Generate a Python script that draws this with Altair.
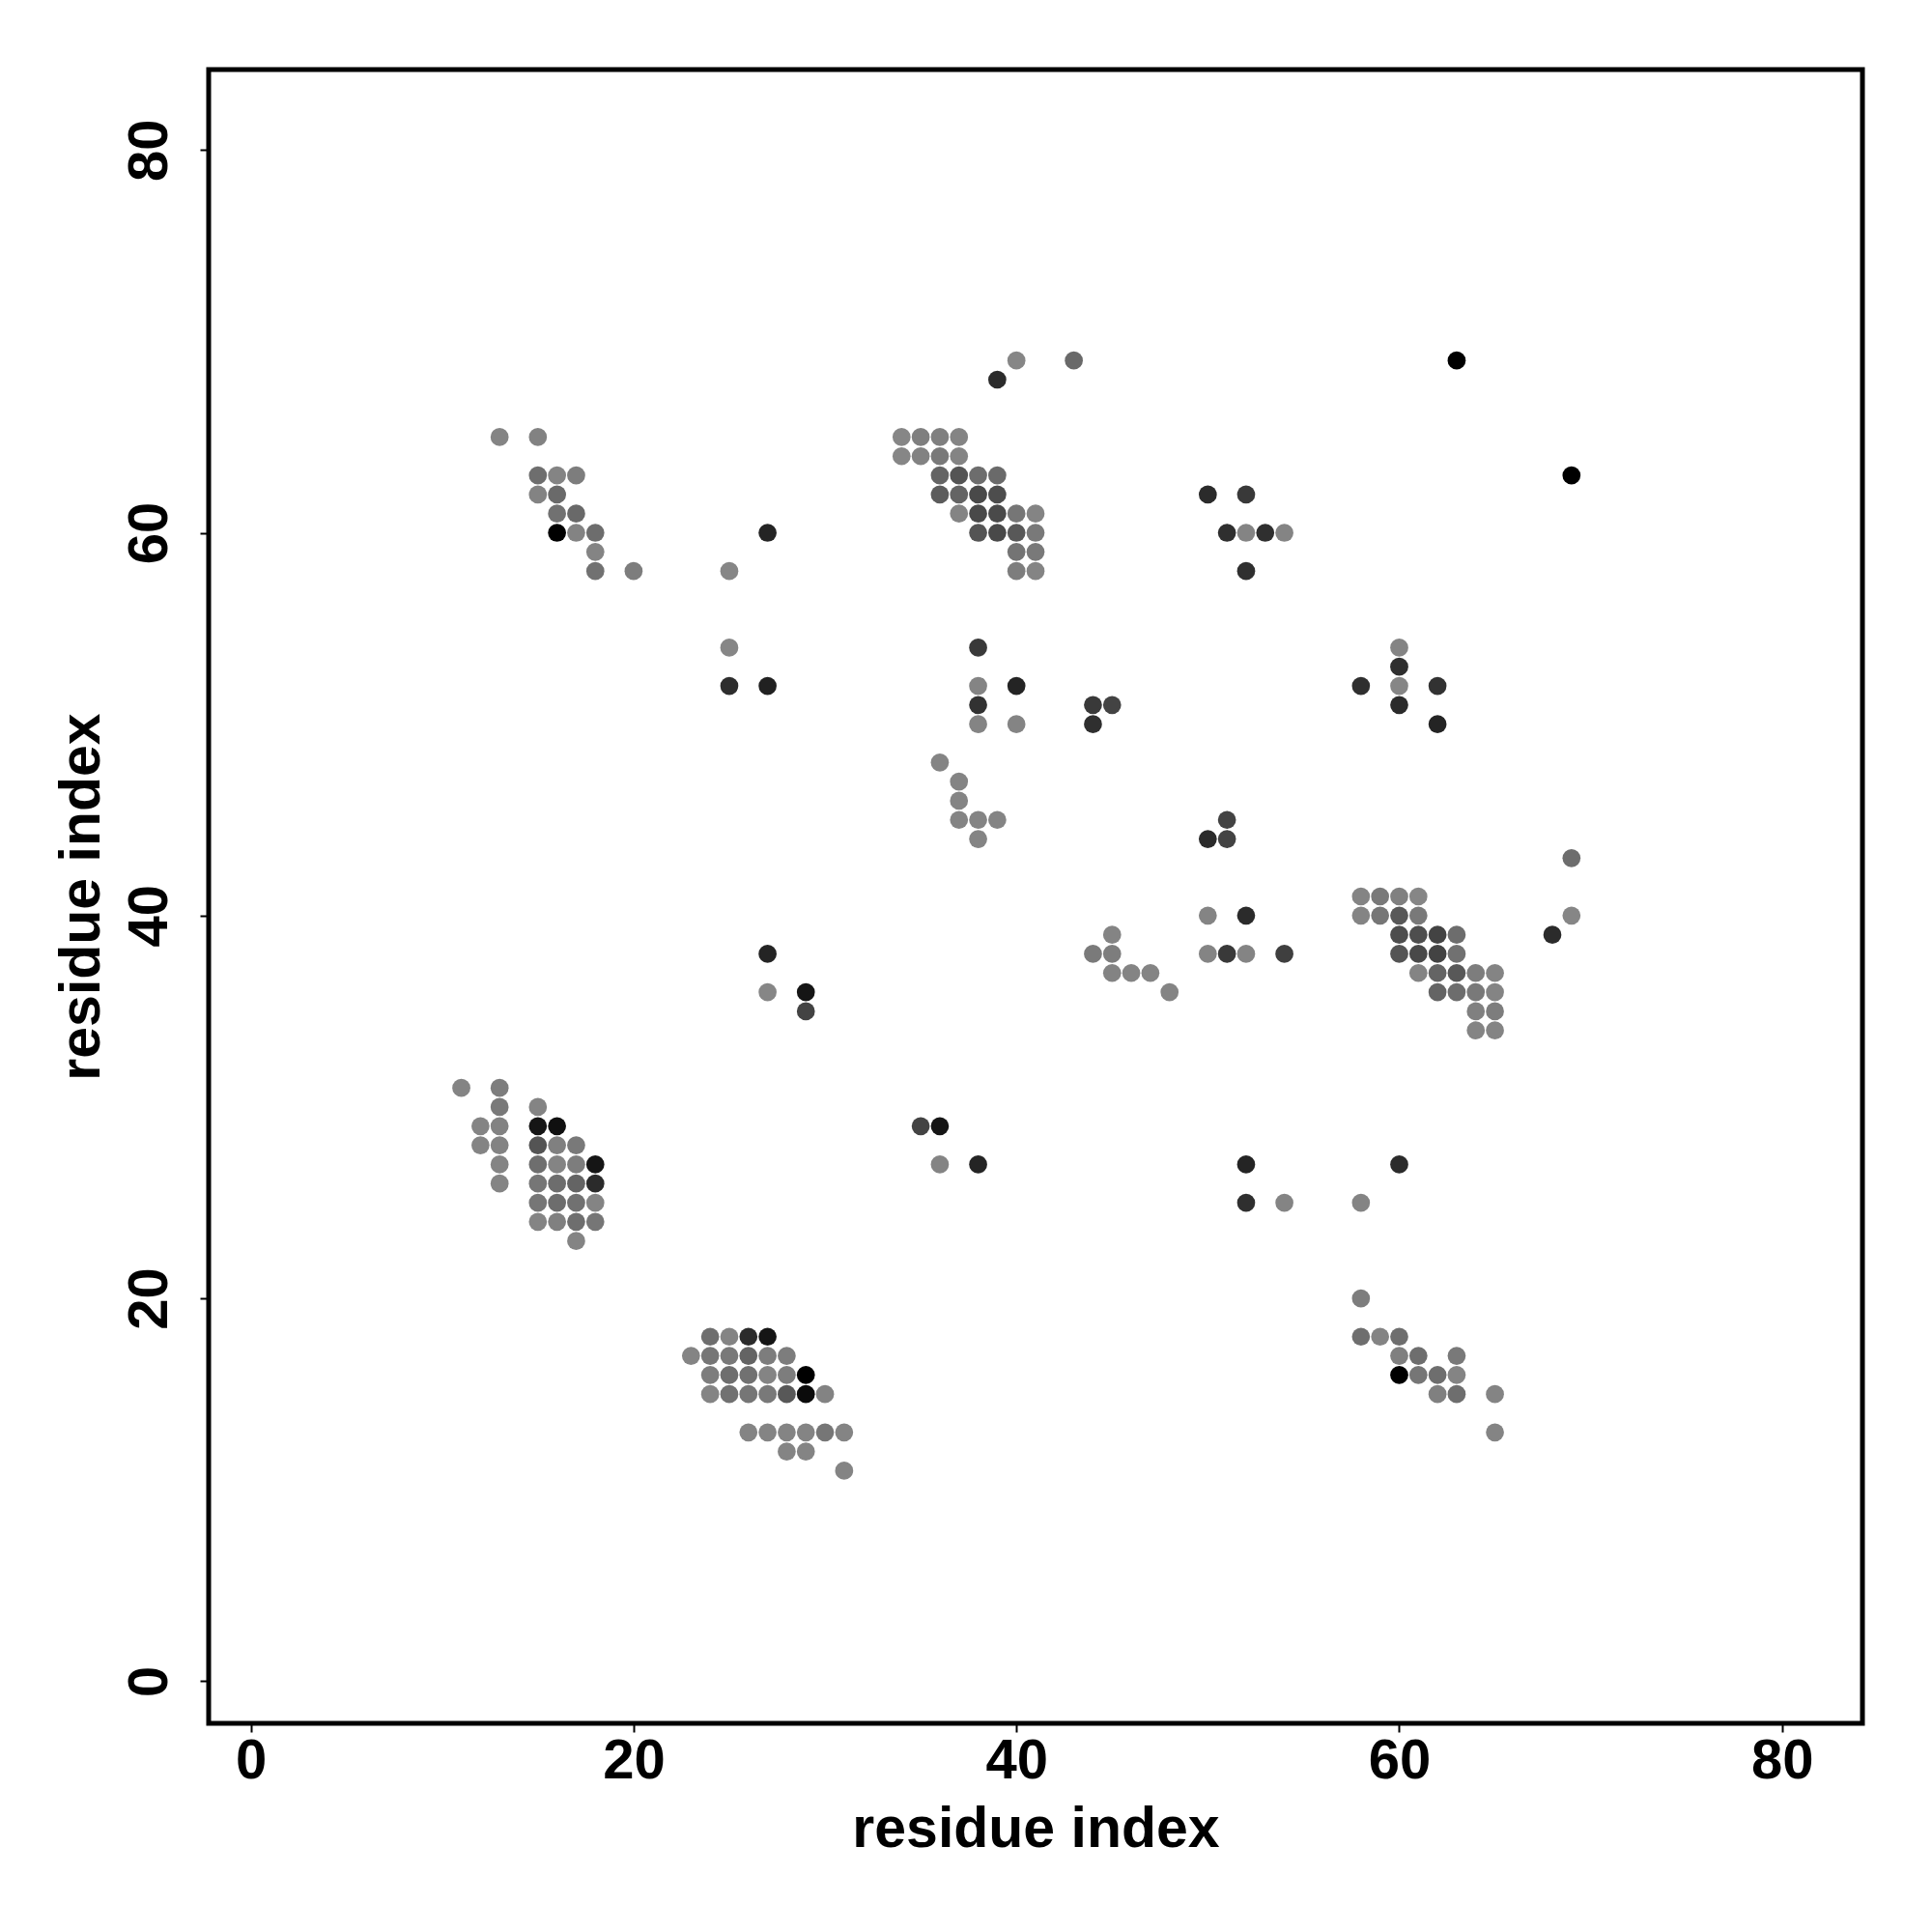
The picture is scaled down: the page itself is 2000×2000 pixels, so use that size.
import altair as alt
import pandas as pd

# residue pairs (i, j) and contact strength p (0 = light grey, 1 = black)
res_i = [
    # upper-left block
    13, 15, 15, 16, 17, 15, 16, 16, 17, 16, 17, 18, 18, 18, 20, 25, 27, 25, 25, 27,
    # upper-middle block
    40, 43, 39, 34, 35, 36, 37, 34, 35, 36, 37, 36, 37, 38, 39, 36, 37, 38, 39,
    37, 38, 39, 40, 41, 38, 39, 40, 41, 40, 41, 40, 41,
    # upper-right
    50, 52, 51, 52, 53, 54, 52, 63, 69,
    # middle
    38, 38, 40, 38, 44, 45, 38, 40, 44, 36, 37, 37, 37, 38, 39, 38, 50, 51, 51,
    50, 52, 50, 51, 52, 54, 44, 45, 45, 45, 46, 47, 48,
    60, 60, 58, 60, 62, 60, 62,
    # right-middle block
    69, 58, 59, 60, 61, 58, 59, 60, 61, 69, 60, 61, 62, 63, 68, 60, 61, 62, 63,
    61, 62, 63, 64, 65, 62, 63, 64, 65, 64, 65, 64, 65,
    # left-middle
    27, 27, 29, 29,
    # lower-left block
    11, 13, 13, 15, 12, 13, 15, 16, 12, 13, 15, 16, 17, 13, 15, 16, 17, 18,
    13, 15, 16, 17, 18, 15, 16, 17, 18, 15, 16, 17, 18, 17,
    # lower block
    24, 25, 26, 27, 23, 24, 25, 26, 27, 28, 24, 25, 26, 27, 28, 29,
    24, 25, 26, 27, 28, 29, 30, 26, 27, 28, 29, 30, 31, 28, 29, 31,
    # scattered
    35, 36, 36, 38, 52, 60, 52, 54, 58,
    # lower-right block
    58, 58, 59, 60, 60, 61, 63, 60, 61, 62, 63, 62, 63, 65, 65,
]

res_j = [
    65, 65, 63, 63, 63, 62, 62, 61, 61, 60, 60, 60, 59, 58, 58, 58, 60, 54, 52, 52,
    69, 69, 68, 65, 65, 65, 65, 64, 64, 64, 64, 63, 63, 63, 63, 62, 62, 62, 62,
    61, 61, 61, 61, 61, 60, 60, 60, 60, 59, 59, 58, 58,
    62, 62, 60, 60, 60, 60, 58, 69, 63,
    54, 52, 52, 51, 51, 51, 50, 50, 50, 48, 47, 46, 45, 45, 45, 44, 44, 44, 45,
    40, 40, 38, 38, 38, 38, 38, 38, 39, 37, 37, 37, 36,
    54, 53, 52, 52, 52, 51, 50,
    43, 41, 41, 41, 41, 40, 40, 40, 40, 40, 39, 39, 39, 39, 39, 38, 38, 38, 38,
    37, 37, 37, 37, 37, 36, 36, 36, 36, 35, 35, 34, 34,
    38, 36, 36, 35,
    31, 31, 30, 30, 29, 29, 29, 29, 28, 28, 28, 28, 28, 27, 27, 27, 27, 27,
    26, 26, 26, 26, 26, 25, 25, 25, 25, 24, 24, 24, 24, 23,
    18, 18, 18, 18, 17, 17, 17, 17, 17, 17, 16, 16, 16, 16, 16, 16,
    15, 15, 15, 15, 15, 15, 15, 13, 13, 13, 13, 13, 13, 12, 12, 11,
    29, 29, 27, 27, 27, 27, 25, 25, 25,
    20, 18, 18, 18, 17, 17, 17, 16, 16, 16, 16, 15, 15, 15, 13,
]

prob = [
    .05, .07, .20, .05, .10, .06, .23, .18, .24, 1.0, .06, .21, .05, .18, .10, .04, .76, .04, .68, .78,
    .04, .24, .70, .04, .09, .09, .05, .04, .07, .13, .05, .27, .39, .21, .23, .33, .27, .47, .44,
    .05, .47, .46, .15, .05, .39, .47, .36, .13, .16, .13, .10, .05,
    .70, .59, .67, .05, .67, .05, .67, 1.0, 1.0,
    .59, .05, .76, .64, .59, .51, .05, .05, .67, .05, .05, .05, .05, .05, .05, .05, .70, .51, .51,
    .05, .70, .05, .59, .05, .54, .12, .10, .05, .06, .05, .05, .05,
    .05, .67, .67, .04, .64, .70, .76,
    .21, .05, .13, .08, .04, .05, .15, .36, .13, .04, .44, .43, .51, .21, .70, .39, .47, .51, .18,
    .05, .27, .36, .10, .05, .27, .21, .13, .05, .08, .10, .05, .05,
    .76, .04, .88, .51,
    .05, .10, .13, .05, .05, .07, .88, .92, .05, .06, .39, .08, .13, .05, .20, .05, .10, .88,
    .05, .15, .21, .27, .70, .15, .21, .18, .05, .05, .08, .20, .15, .05,
    .20, .05, .70, .88, .05, .15, .13, .27, .10, .10, .10, .20, .18, .05, .10, 1.0,
    .05, .18, .15, .13, .36, .95, .06, .05, .05, .05, .05, .15, .05, .05, .05, .05,
    .51, .88, .05, .76, .76, .70, .67, .05, .05,
    .10, .20, .05, .20, .08, .20, .13, 1.0, .15, .20, .05, .08, .20, .05, .05,
]

tick_values = [0, 20, 40, 60, 80]
axis_title = "residue index"

assert len(res_i) == len(res_j) == len(prob)

df = pd.DataFrame({"i": res_i, "j": res_j, "p": prob})

FONT = "Liberation Sans"
W = 1712
H = 1712

x_axis = alt.Axis(
    values=tick_values, title=axis_title, grid=False, domain=False,
    tickSize=9, tickWidth=2, tickColor="black",
    labelFont=FONT, labelFontSize=58, labelFontWeight="bold", labelColor="black",
    labelBaseline="alphabetic", labelAlign="center", labelPadding=47,
    labelFlush=False, labelOverlap=False,
    titleFont=FONT, titleFontSize=59, titleFontWeight="bold", titleColor="black",
    titleX=W / 2, titleY=127, titleAlign="center", titleBaseline="alphabetic",
)

y_axis = alt.Axis(
    values=tick_values, title=axis_title, grid=False, domain=False,
    tickSize=9, tickWidth=2, tickColor="black",
    labelFont=FONT, labelFontSize=58, labelFontWeight="bold", labelColor="black",
    labelAngle=270, labelBaseline="alphabetic", labelAlign="center", labelPadding=35,
    labelFlush=False, labelOverlap=False,
    titleFont=FONT, titleFontSize=59, titleFontWeight="bold", titleColor="black",
    titleAngle=270, titleX=-114, titleY=H / 2, titleAlign="center", titleBaseline="alphabetic",
)

chart = alt.Chart(df).mark_circle(size=350, opacity=1).encode(
    x=alt.X("i:Q", scale=alt.Scale(domain=[-2.2, 84.2], nice=False, zero=False), axis=x_axis),
    y=alt.Y("j:Q", scale=alt.Scale(domain=[-2.2, 84.2], nice=False, zero=False), axis=y_axis),
    color=alt.Color("p:Q", scale=alt.Scale(domain=[0, 1], range=["#8c8c8c", "#000000"]), legend=None),
).properties(
    width=W, height=H,
    autosize=alt.AutoSizeParams(type="none"),
    padding={"left": 208, "top": 64, "right": 60, "bottom": 200},
).configure_view(stroke="black", strokeWidth=5)

chart.save("out.html", embed_options={"renderer": "svg", "actions": False})
